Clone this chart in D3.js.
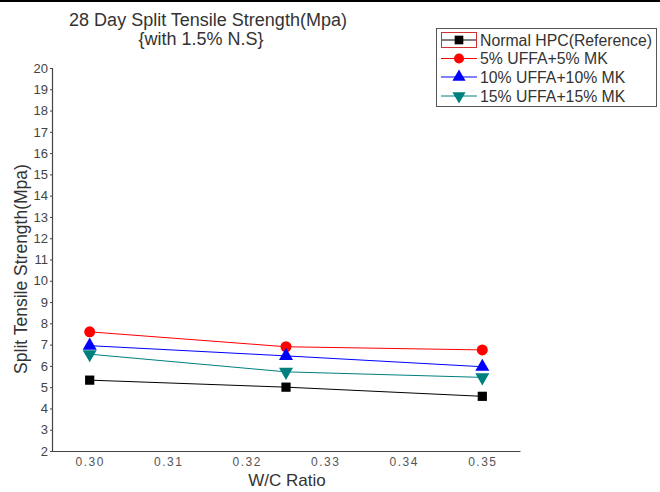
<!DOCTYPE html>
<html><head><meta charset="utf-8">
<script src="https://cdn.jsdelivr.net/npm/d3@7"></script>
<style>body{margin:0;background:#fff;} svg{display:block;font-family:"Liberation Sans",Arial,sans-serif;}</style>
</head><body>
<svg id="c" width="660" height="492"></svg>
<script>
const wcRatio = [0.30, 0.325, 0.35];
const seriesNames = ["Normal HPC(Reference)", "5% UFFA+5% MK", "10% UFFA+10% MK", "15% UFFA+15% MK"];
const normalHPC = [5.33, 5.0, 4.57];
const uffa5 = [7.6, 6.9, 6.75];
const uffa10 = [6.95, 6.47, 5.96];
const uffa15 = [6.55, 5.72, 5.46];
const xTicks = [0.30, 0.31, 0.32, 0.33, 0.34, 0.35];
const yTicks = d3.range(2, 21);
const colors = ["#000000", "#ff0000", "#0000ff", "#007f7f"];
const symbols = [d3.symbolSquare, d3.symbolCircle, d3.symbolTriangle, "down"];
const allSeries = [normalHPC, uffa5, uffa10, uffa15];

const svg = d3.select("#c");
svg.append("rect").attr("x",0).attr("y",0).attr("width",660).attr("height",2).attr("fill","#000");

const x = d3.scaleLinear().domain([0.2952, 0.3548]).range([52, 520]);
const y = d3.scaleLinear().domain([2, 20]).range([451, 68]);

// axes
const xa = svg.append("g").attr("transform","translate(0,451)")
  .call(d3.axisBottom(x).tickValues(xTicks).tickFormat(d3.format(".2f")).tickSize(0).tickPadding(6));
xa.select(".domain").attr("stroke","#444").attr("stroke-width",1.2);
xa.selectAll("text").attr("font-size",12).attr("fill","#555").attr("letter-spacing","1.5px")
  .attr("font-family","Liberation Sans, Arial, sans-serif");

const ya = svg.append("g").attr("transform","translate(52,0)")
  .call(d3.axisLeft(y).tickValues(yTicks).tickSize(2).tickPadding(2));
ya.select(".domain").attr("stroke","#444").attr("stroke-width",1.2);
ya.selectAll("line").attr("stroke","#444");
ya.selectAll("text").attr("font-size",13).attr("fill","#444")
  .attr("font-family","Liberation Sans, Arial, sans-serif");

function symPath(s, size){
  if (s === "down") return d3.symbol().type(d3.symbolTriangle).size(size)();
  return d3.symbol().type(s).size(size)();
}

const line = d3.line().x((d,i)=>x(wcRatio[i])).y(d=>y(d));
allSeries.forEach((vals, k) => {
  svg.append("path").datum(vals).attr("d", line).attr("fill","none")
    .attr("stroke", colors[k]).attr("stroke-width",1);
  svg.selectAll(null).data(vals).enter().append("path")
    .attr("d", symPath(symbols[k], k===1?95:85))
    .attr("transform",(d,i)=>`translate(${x(wcRatio[i])},${y(d)})` + (symbols[k]==="down"?" rotate(180)":""))
    .attr("fill", colors[k]);
});

// titles
svg.append("text").attr("x",208).attr("y",26).attr("text-anchor","middle")
  .attr("font-size",18).attr("fill","#333").text("28 Day Split Tensile Strength(Mpa)");
svg.append("text").attr("x",201).attr("y",45).attr("text-anchor","middle")
  .attr("font-size",18).attr("fill","#333").text("{with 1.5% N.S}");
svg.append("text").attr("x",287).attr("y",486).attr("text-anchor","middle")
  .attr("font-size",17).attr("fill","#333").text("W/C Ratio");
svg.append("text").attr("transform","translate(27,269) rotate(-90)").attr("text-anchor","middle")
  .attr("font-size",17.5).attr("fill","#333").text("Split Tensile Strength(Mpa)");

// legend
const lg = svg.append("g");
lg.append("rect").attr("x",436.5).attr("y",28.5).attr("width",220).attr("height",78)
  .attr("fill","#fff").attr("stroke","#555").attr("stroke-width",1);
const rowY = [40, 58.5, 77, 96];
seriesNames.forEach((name,k)=>{
  lg.append("line").attr("x1",441).attr("x2",477).attr("y1",rowY[k]).attr("y2",rowY[k])
    .attr("stroke",colors[k]).attr("stroke-width",1);
  lg.append("path").attr("d", symPath(symbols[k], k===1?80:75))
    .attr("transform",`translate(459,${rowY[k]})`+(symbols[k]==="down"?" rotate(180)":""))
    .attr("fill",colors[k]);
  lg.append("text").attr("x",480).attr("y",rowY[k]+5.5).attr("font-size",15.8).attr("fill","#333")
    .text(name);
});
lg.append("rect").attr("x",441.5).attr("y",32.5).attr("width",35).attr("height",15)
  .attr("fill","none").attr("stroke","#d03030").attr("stroke-width",1);
</script>
</body></html>
